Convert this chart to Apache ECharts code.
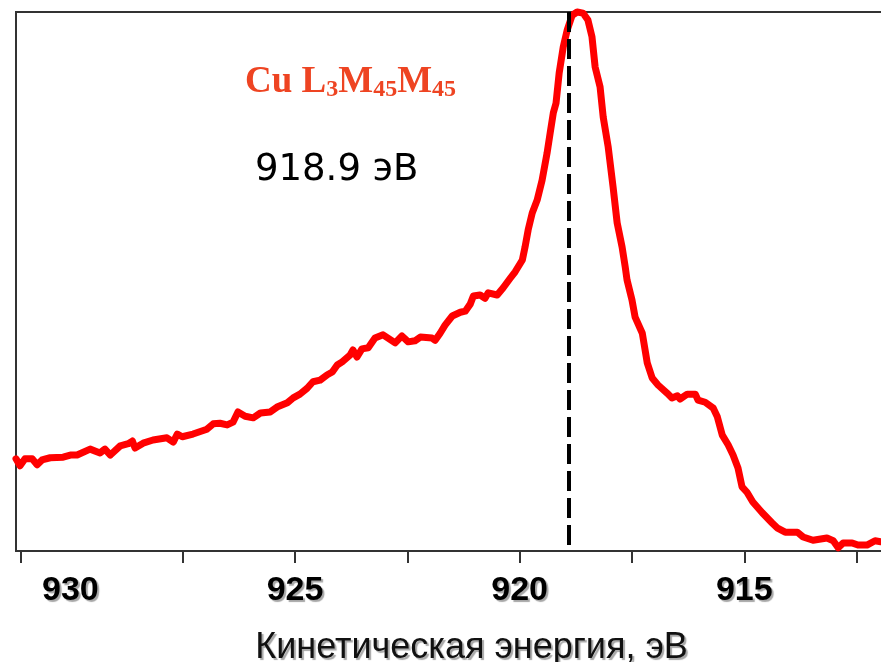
<!DOCTYPE html>
<html>
<head>
<meta charset="utf-8">
<script src="https://cdn.jsdelivr.net/npm/echarts@6/dist/echarts.min.js"></script>
<style>
  html, body { margin: 0; padding: 0; background: #fff; overflow: hidden; }
  #chart { width: 881px; height: 662px; }
</style>
</head>
<body>
<div id="chart"></div>
<script>
// Cu L3M45M45 Auger line: kinetic energy (eV) and intensity (arb. units)
const energy = [
  931.21, 931.12, 931.01, 930.85, 930.74, 930.63, 930.45, 930.16, 930.00, 929.85,
  929.56, 929.34, 929.23, 929.11, 928.89, 928.71, 928.62, 928.56, 928.38, 928.16,
  927.85, 927.71, 927.62, 927.51, 927.27, 926.96, 926.82, 926.67, 926.51, 926.38,
  926.27, 926.11, 925.93, 925.77, 925.55, 925.40, 925.17, 925.04, 924.89, 924.73,
  924.60, 924.44, 924.28, 924.17, 924.06, 923.95, 923.77, 923.71, 923.62, 923.51,
  923.37, 923.22, 923.04, 922.93, 922.77, 922.62, 922.48, 922.33, 922.21, 921.95,
  921.88, 921.77, 921.66, 921.50, 921.32, 921.21, 921.10, 921.03, 920.88, 920.77,
  920.70, 920.50, 920.37, 920.21, 920.10, 919.94, 919.88, 919.81, 919.72, 919.61,
  919.50, 919.39, 919.32, 919.25, 919.19, 919.12, 919.03, 918.94, 918.83, 918.72,
  918.59, 918.48, 918.39, 918.32, 918.21, 918.14, 918.03, 917.92, 917.83, 917.72,
  917.65, 917.61, 917.50, 917.43, 917.27, 917.16, 917.05, 916.92, 916.72, 916.61,
  916.49, 916.43, 916.27, 916.09, 916.03, 915.87, 915.69, 915.60, 915.49, 915.36,
  915.25, 915.14, 915.05, 914.94, 914.81, 914.60, 914.38, 914.27, 914.09, 913.82,
  913.69, 913.47, 913.16, 913.02, 912.91, 912.80, 912.60, 912.47, 912.27, 912.09,
  911.96
];
const intensity = [
  17.1, 15.8, 17.1, 17.1, 16.0, 16.9, 17.3, 17.4, 17.8, 17.8,
  18.9, 18.2, 18.9, 17.8, 19.5, 19.9, 20.4, 19.1, 20.0, 20.6,
  21.0, 20.2, 21.7, 21.2, 21.7, 22.6, 23.6, 23.7, 23.4, 23.9,
  25.8, 25.0, 24.7, 25.6, 25.8, 26.7, 27.5, 28.4, 29.1, 30.2,
  31.4, 31.7, 32.7, 33.2, 34.5, 35.1, 36.4, 37.3, 36.0, 37.5,
  37.7, 39.5, 40.1, 39.5, 38.6, 39.9, 38.8, 39.0, 39.7, 39.5,
  39.1, 40.4, 41.9, 43.6, 44.3, 44.5, 45.8, 47.3, 47.5, 46.9,
  47.9, 47.5, 48.8, 50.6, 51.8, 54.0, 56.4, 59.6, 62.7, 65.1,
  68.8, 73.8, 77.6, 81.3, 83.1, 88.7, 93.5, 96.7, 99.4, 100.0,
  99.8, 98.5, 95.4, 89.8, 86.1, 80.5, 75.0, 67.5, 60.9, 56.4,
  52.7, 50.3, 46.6, 43.4, 40.4, 34.9, 32.1, 30.8, 29.3, 28.4,
  28.8, 28.2, 29.1, 29.1, 28.0, 27.6, 26.5, 24.9, 21.5, 19.7,
  17.8, 15.4, 11.9, 10.9, 9.1, 7.1, 5.2, 4.3, 3.5, 3.5,
  2.6, 2.0, 2.4, 1.9, 0.6, 1.5, 1.5, 1.1, 1.1, 1.9,
  1.7
];

// Axis ticks and labels
const tickValues = [931.1, 927.5, 925, 922.5, 920, 917.5, 915, 912.5];
const labelValues = [930, 925, 920, 915];
const peakEnergy = 918.9;

const points = energy.map((e, i) => [e, intensity[i]]);

const chart = echarts.init(document.getElementById('chart'), null, { renderer: 'canvas' });

const shadowText = {
  textShadowColor: 'rgba(0,0,0,0.35)',
  textShadowOffsetX: 2,
  textShadowOffsetY: 2,
  textShadowBlur: 1
};

chart.setOption({
  animation: false,
  backgroundColor: '#fff',
  title: [
    {
      text: '{m|Cu L}{s|3}{m|M}{s|45}{m|M}{s|45}',
      left: 240,
      top: 56,
      textStyle: {
        rich: {
          m: { fontFamily: 'Liberation Serif', fontWeight: 'bold', fontSize: 37, color: '#ee4422', lineHeight: 42 },
          s: { fontFamily: 'Liberation Serif', fontWeight: 'bold', fontSize: 24, color: '#ee4422', lineHeight: 42, padding: [16, 0, 0, 0] }
        }
      }
    },
    {
      text: peakEnergy.toFixed(1) + ' эВ',
      left: 250,
      top: 147,
      textStyle: { fontFamily: 'DejaVu Sans', fontWeight: 'normal', fontSize: 37, color: '#000' }
    }
  ],
  grid: {
    left: 16, top: 12, right: -12, bottom: 111,
    outerBoundsMode: 'none',
    containLabel: false,
    show: true, borderColor: '#333', borderWidth: 2, backgroundColor: 'transparent'
  },
  xAxis: {
    type: 'value',
    inverse: true,
    min: 911.69,
    max: 931.21,
    name: 'Кинетическая энергия, эВ',
    nameLocation: 'middle',
    nameGap: 79,
    nameTextStyle: Object.assign({
      fontFamily: 'Liberation Sans', fontSize: 36, color: '#111', padding: [0, 0, 0, 34]
    }, shadowText),
    axisLine: { show: true, lineStyle: { color: '#333', width: 2 } },
    axisTick: { show: true, inside: false, length: 12, customValues: tickValues, lineStyle: { color: '#333', width: 2 } },
    splitLine: { show: false },
    axisLabel: Object.assign({
      customValues: labelValues,
      margin: 23,
      fontFamily: 'Liberation Sans', fontWeight: 'bold', fontSize: 34, color: '#000'
    }, shadowText)
  },
  yAxis: {
    type: 'value',
    min: 0,
    max: 100,
    axisLine: { show: true, lineStyle: { color: '#333', width: 2 } },
    axisTick: { show: false },
    axisLabel: { show: false },
    splitLine: { show: false }
  },
  series: [
    {
      type: 'line',
      data: points,
      showSymbol: false,
      clip: false,
      lineStyle: { color: '#ff0000', width: 7, join: 'round', cap: 'round' },
      markLine: {
        silent: true,
        symbol: ['none', 'none'],
        label: { show: false },
        lineStyle: { color: '#000', width: 4, type: [20, 7] },
        data: [[{ coord: [peakEnergy, 100] }, { coord: [peakEnergy, 0] }]]
      },
      z: 3
    }
  ]
});
</script>
</body>
</html>
